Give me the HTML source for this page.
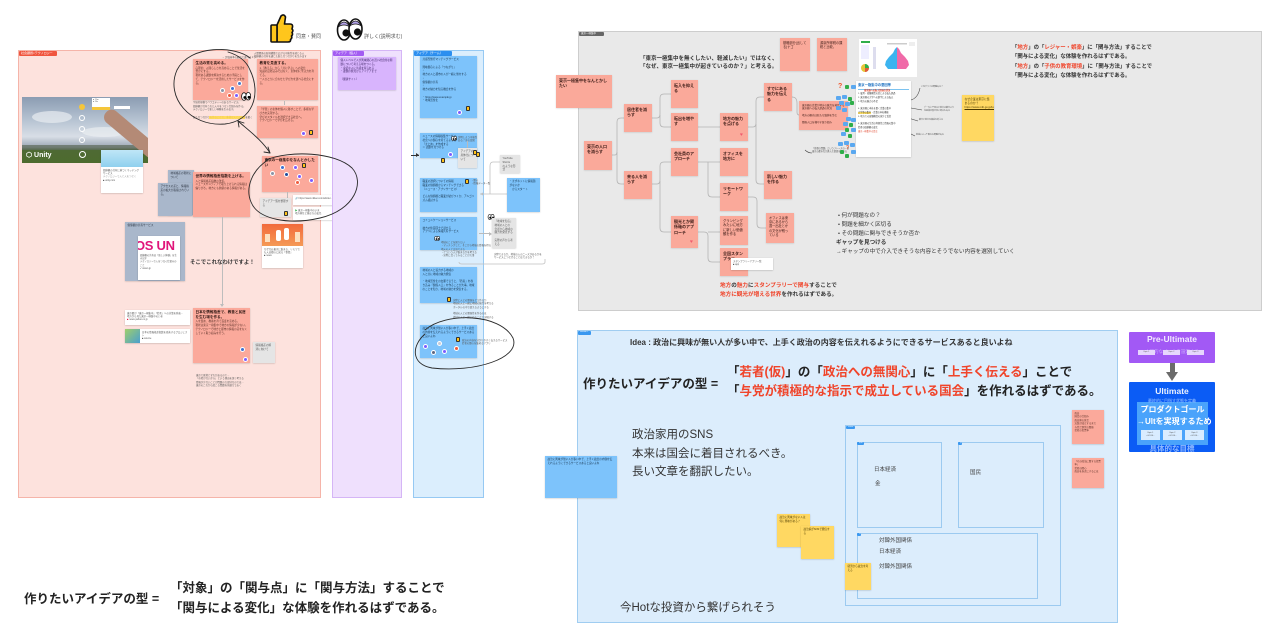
<!DOCTYPE html>
<html><head><meta charset="utf-8">
<style>
*{margin:0;padding:0;box-sizing:border-box}
html,body{width:1280px;height:641px;overflow:hidden;background:#fff}
body{position:relative;font-family:"Liberation Sans","Noto Sans CJK JP",sans-serif;color:#222}
.a{position:absolute}
.n{position:absolute;background:#fba99b;box-shadow:0 .5px 1.5px rgba(0,0,0,.2);padding:2px 2.5px;font-size:2.6px;line-height:1.45;color:#5a3028;overflow:hidden}
.n b{display:block;font-size:3.6px;color:#2a1410;line-height:1.3;margin-bottom:1px}
.g{background:#a9b7cb;color:#2c3440}
.gy{background:#e5e5e5;color:#555}
.bl{background:#7dc3fb;color:#16324a}
.pu{background:#d8b4fd;color:#3b2260}
.ye{background:#ffd862;color:#4a3a00}
.w{position:absolute;background:#fff;box-shadow:0 .5px 1.5px rgba(0,0,0,.22);font-size:2.4px;line-height:1.4;color:#555;padding:1.5px 2px;overflow:hidden}
.av{position:absolute;width:5px;height:5px;border-radius:50%;border:.4px solid #fff}
.th{position:absolute;width:4px;height:5px;background:#ffc21a;border:.6px solid #333;border-radius:1px}
.tag{position:absolute;height:5px;font-size:3px;line-height:5px;color:#fff;padding:0 2px;border-radius:1px;white-space:nowrap;overflow:hidden}
.gn{position:absolute;background:#faa99a;box-shadow:0 .5px 1.5px rgba(0,0,0,.15);padding:2.5px 3px;font-size:4px;font-weight:bold;line-height:1.4;color:#3a1a15;overflow:hidden}
.tiny{position:absolute;font-size:2.4px;line-height:1.4;color:#555;white-space:nowrap}
.bt{position:absolute;white-space:nowrap;font-weight:bold}
.r{color:#f0442a}
.bi{position:absolute;width:5px;height:4px;background:#5aa8f0;border-radius:1px}
.gi{position:absolute;width:4px;height:4px;background:#2fae4a;border-radius:1px}
</style></head><body>

<!-- ===== top legend icons ===== -->
<svg class="a" style="left:268px;top:13px" width="26" height="31" viewBox="0 0 26 31">
 <path d="M9 12 L13 3 Q16 0.5 17.5 4 L16.5 11 L22 11 Q25 11 24.5 14 L24 16 Q25.8 17.5 24 19.5 Q25.3 21.5 23.5 23 Q24.5 25 22.5 26.5 Q23 29 20 29 L9 29 Z" fill="#ffc61c" stroke="#111" stroke-width="1.6" stroke-linejoin="round"/>
 <rect x="3" y="12" width="6" height="17" rx="1" fill="#ffc61c" stroke="#111" stroke-width="1.6"/>
</svg>
<div class="a" style="left:296px;top:33px;font-size:5px;color:#555">同意・賛同</div>
<svg class="a" style="left:336px;top:17px" width="27" height="25" viewBox="0 0 27 25">
 <ellipse cx="8" cy="13" rx="6.5" ry="10" fill="#fff" stroke="#111" stroke-width="1.6"/>
 <ellipse cx="19.5" cy="12" rx="6.5" ry="10" fill="#fff" stroke="#111" stroke-width="1.6"/>
 <path d="M2 10 Q8 0 14 10 Q8 6 2 10Z" fill="#b3a3e8" stroke="#111" stroke-width=".8"/>
 <path d="M13.5 9 Q19.5 -1 25.5 9 Q19.5 5 13.5 9Z" fill="#b3a3e8" stroke="#111" stroke-width=".8"/>
 <circle cx="10" cy="16" r="3.6" fill="#111"/>
 <circle cx="21.5" cy="15" r="3.6" fill="#111"/>
</svg>
<div class="a" style="left:364px;top:33px;font-size:5px;color:#555">詳しく(説明求む)</div>

<!-- ===== left pink frame ===== -->
<div class="a" style="left:18px;top:50px;width:303px;height:448px;background:#fde2dd;border:1px solid #f5b4a9"></div>
<div class="tag" style="left:19px;top:51px;width:38px;background:#f0553e">社会課題×テクノロジー</div>
<div class="tiny" style="left:254px;top:52px">人間関係の新規構築で広がる可能性を感じる人<br>価値観の共有を通じた新たなつながりを生み出す</div>
<div class="tiny" style="left:222px;top:56px">→ 評価基準の観点で選べる 1つ</div>

<div class="n" style="left:193px;top:59px;width:55px;height:41px"><b>生活の質を高める。</b>心理的、人間らしさを高めることで生活を豊かにする。<br>現状ある課題を解決するための手段として、テクノロジーを活用したサービスを作る。</div>
<div class="av" style="left:220px;top:88px;background:#8a94a6"></div>
<div class="av" style="left:230px;top:86px;background:#3c6fd1"></div>
<div class="av" style="left:237px;top:81px;background:#4a78c8"></div>
<div class="av" style="left:227px;top:93px;background:#f05a3c"></div>
<div class="av" style="left:234px;top:93px;background:#7b5cff"></div>
<svg class="a" style="left:241px;top:92px" width="10" height="9" viewBox="0 0 10 9"><ellipse cx="3" cy="4.5" rx="2.4" ry="3.8" fill="#fff" stroke="#111" stroke-width=".8"/><ellipse cx="7.3" cy="4.2" rx="2.4" ry="3.8" fill="#fff" stroke="#111" stroke-width=".8"/><circle cx="3.8" cy="5.5" r="1.4"/><circle cx="8" cy="5.3" r="1.4"/></svg>
<div class="tiny" style="left:193px;top:101px;line-height:1.55">宇宙的規模でバラエティーのあるサービス。<br>価値観が共有された人々をつなぐ仕組みを作る。<br>テクノロジーで新しい体験を生み出す。<br><br>新たなつながりを作ることで、多様な人との関係を築く</div>
<div class="a" style="left:209px;top:116px;width:36px;height:3px;background:#ffd94a;opacity:.85"></div>

<div class="n" style="left:257px;top:59px;width:61px;height:41px"><b>教育を見直する。</b>1.「教える」から「共に学ぶ」への変化<br>知識の詰め込みではなく、主体的に学ぶ力を育てる。<br>一人ひとりに合わせた学び方を選べる社会にする。</div>
<div class="a" style="left:284px;top:101px;width:1px;height:4px;background:#bbb"></div>
<div class="n" style="left:257px;top:106px;width:61px;height:32px">「学習」の主体を個人に移すことで、多様な学び方を実現する。<br>学びのスタイルを選択できる社会へ。<br>テクノロジーで学びを広げる。</div>
<div class="av" style="left:301px;top:131px;background:#7b5cff"></div>
<div class="th" style="left:309px;top:130px"></div>

<div class="n" style="left:262px;top:156px;width:56px;height:36px"><b>東京の一極集中をなんとかしたい</b></div>
<div class="av" style="left:270px;top:171px;background:#8a94a6"></div>
<div class="av" style="left:280px;top:165px;background:#3c6fd1"></div>
<div class="av" style="left:284px;top:172px;background:#1e4a9a"></div>
<div class="av" style="left:293px;top:165px;background:#7b5cff"></div>
<div class="av" style="left:297px;top:174px;background:#7b5cff"></div>
<div class="th" style="left:302px;top:163px"></div>
<div class="av" style="left:295px;top:180px;background:#f05a3c"></div>
<div class="av" style="left:309px;top:178px;background:#7b5cff"></div>
<div class="a" style="left:287px;top:192px;width:1px;height:6px;background:#bbb"></div>
<div class="n gy" style="left:260px;top:198px;width:31px;height:19px">アイデア一覧を整理する</div>
<div class="th" style="left:284px;top:211px"></div>
<div class="w" style="left:293px;top:195px;width:64px;height:10px">🔗 https://www.nikkei.com/article/...</div>
<div class="w" style="left:293px;top:207px;width:64px;height:13px"><span style="color:#2fae4a">▶</span> 東京一極集中のいま<br>地方移住と働き方の変化</div>

<div class="n g" style="left:168px;top:170px;width:26px;height:45px">地域格差の現状について</div>
<div class="n g" style="left:158px;top:183px;width:34px;height:33px">アクセスの差と、情報格差の拡大が指摘されている。</div>
<div class="n" style="left:193px;top:172px;width:57px;height:45px"><b>世界の情報格差指数を上げる。</b>人と情報格差指数の改善。<br>ニュースやメディアで取り上げられる情報は偏りがち。地方にも価値のある情報がある。</div>

<!-- Unity image -->
<div class="a" style="left:22px;top:97px;width:126px;height:66px;overflow:hidden;background:linear-gradient(#8b9cb2 0%,#b6c3d2 35%,#d8dee6 60%,#9aa6b4 76%,#4e6a34 80%,#4d6b2e 100%)">
 <div class="a" style="left:10px;top:14px;width:40px;height:12px;border-radius:50%;background:#e8ecf1;opacity:.7"></div>
 <div class="a" style="left:60px;top:30px;width:44px;height:10px;border-radius:50%;background:#eef1f4;opacity:.6"></div>
 <div class="a" style="left:0;top:48px;width:126px;height:5px;background:#5d6a58;opacity:.7"></div>
 <div class="a" style="left:84px;top:8px;width:66px;height:15px;background:#b48a76;border-radius:7px;transform:rotate(40deg);transform-origin:0 50%"></div>
 <div class="a" style="left:77px;top:7px;width:12px;height:3px;background:#c09684;border-radius:2px;transform:rotate(30deg)"></div>
 <div class="a" style="left:57px;top:7px;width:6px;height:6px;border-radius:50%;background:#f5c63a"></div>
 <div class="a" style="left:57px;top:18px;width:6px;height:6px;border-radius:50%;border:1px solid #fff"></div>
 <div class="a" style="left:57px;top:29px;width:6px;height:6px;border-radius:50%;border:1px solid #fff"></div>
 <div class="a" style="left:57px;top:40px;width:6px;height:6px;border-radius:50%;border:1px solid #fff"></div>
 <div class="a" style="left:57px;top:54px;width:7px;height:7px;border-radius:50%;border:1px solid #fff"></div>
 <div class="a" style="left:70px;top:1px;width:18px;height:9px;background:#fff;font-size:2px;color:#555;padding:1px">● 21m<br>● 20s</div>
 <div class="a" style="left:70px;top:10px;width:18px;height:3px;background:#f5c63a"></div>
 <div class="a" style="left:92px;top:9px;width:16px;height:3px;background:#fff"></div>
 <div class="a" style="left:4px;top:54px;font-size:7px;font-weight:bold;color:#fff">⬡ Unity</div>
</div>
<div class="w" style="left:101px;top:150px;width:42px;height:43px;padding:0">
 <div style="height:17px;background:linear-gradient(#bfe6f7,#8fd0ee)"></div>
 <div style="padding:1.5px 2px">価値観の共有に基づくマッチングサービス<br><span style="color:#999">テクノロジーで人と人をつなぐ</span><br>■ unity.com</div>
</div>

<!-- OS UN card -->
<div class="n g" style="left:125px;top:222px;width:60px;height:59px">価値観の共有サービス</div>
<div class="w" style="left:138px;top:236px;width:42px;height:44px;padding:0">
 <div style="font-size:13px;font-weight:bold;color:#e0157a;line-height:14px;margin:3px 0 0 -3px;letter-spacing:-.3px">OS UN</div>
 <div style="padding:2px 2px;font-size:2.3px">価値観の共有は「新しい体験」を生み出す<br>テクノロジーで人をつなぐ仕組みのこと<br>✓ ossun.jp</div>
</div>
<div class="bt" style="left:190px;top:258px;font-size:5.4px;color:#333">そこでこれなわけですよ！</div>

<!-- orange card -->
<div class="w" style="left:262px;top:224px;width:41px;height:44px;padding:0">
 <div style="height:22px;background:linear-gradient(#f26a3c,#f59a56);position:relative">
  <div class="a" style="left:14px;top:6px;width:5px;height:11px;background:#fff;border-radius:2px"></div>
  <div class="a" style="left:22px;top:4px;width:5px;height:12px;background:#fff;border-radius:2px"></div>
  <div class="a" style="left:3px;top:10px;width:5px;height:8px;background:#fde0c0"></div>
  <div class="a" style="left:33px;top:8px;width:5px;height:10px;background:#fde0c0"></div>
 </div>
 <div style="padding:1.5px 2px">なぜなお東京に集まる、リモワでも人は都心に戻る「事情」<br>■ news</div>
</div>

<div class="a" style="left:222px;top:217px;width:1px;height:89px;background:#bdbdbd"></div>
<div class="a" style="left:220px;top:304px;width:0;height:0;border-left:2px solid transparent;border-right:2px solid transparent;border-top:3px solid #bdbdbd"></div>

<div class="w" style="left:125px;top:310px;width:65px;height:15px">東京都が「東京一極集中」「若者」への対策を発表…<br>地方から見た東京一極集中のいま<br><span style="color:#e03">■</span> news.yahoo.co.jp</div>
<div class="w" style="left:125px;top:329px;width:65px;height:14px;padding-left:17px"><div class="a" style="left:0;top:0;width:15px;height:14px;background:linear-gradient(135deg,#9fcf6a,#4a9fd0)"></div>日本の情報格差指数を改善するプロジェクト<br>■ source</div>
<div class="n" style="left:193px;top:308px;width:57px;height:55px"><b>日本を情報格差で、教養と民度を生む場を作る。</b>人を集め、教養を育て民度を高める。<br>現状は東京一極集中で地方の情報が少ない。テクノロジーで地方と都市の情報の差をなくしていく取り組みを行う。</div>
<div class="av" style="left:240px;top:347px;background:#3c6fd1"></div>
<div class="av" style="left:243px;top:357px;background:#7b5cff"></div>
<div class="n gy" style="left:253px;top:342px;width:22px;height:21px">情報格差の解消に向けて</div>
<div class="tiny" style="left:196px;top:374px">東京で感覚とずれがあるので…<br>「市場がないから」という理由を深く考える<br>情報が少ないことが問題の大部分なのでは…<br>東京のこれから起こる問題を見据えておく</div>

<!-- ===== purple column ===== -->
<div class="a" style="left:332px;top:50px;width:70px;height:448px;background:#efe0fd;border:1px solid #d5b5f6"></div>
<div class="tag" style="left:333px;top:51px;width:31px;background:#a35cf2">アイデア（個人）</div>
<div class="n pu" style="left:338px;top:57px;width:58px;height:33px">個人レベルで人が興味関心の近い社会的な問題について考える場をつくる。<br>・身近な人に共感を得られる<br>・課題の発見からアイデアまで<br><br>（関連サイト）</div>

<!-- ===== blue column ===== -->
<div class="a" style="left:413px;top:50px;width:71px;height:448px;background:#dbeefd;border:1px solid #96c9f3"></div>
<div class="tag" style="left:414px;top:51px;width:38px;background:#2c8ff0">アイデア（チーム）</div>
<div class="n bl" style="left:420px;top:56px;width:57px;height:62px">共感型旅行マッチングサービス<br><br>興味関心による「つながり」<br>↓<br>地方の人と都市の人が一緒に旅をする<br>↓<br>価値観の共有<br>↓<br>地方の魅力を知る機会を作る<br><br>・https://www.example.jp<br>・地域活性化</div>
<div class="av" style="left:457px;top:110px;background:#7b5cff"></div>
<div class="th" style="left:466px;top:106px"></div>

<div class="n bl" style="left:420px;top:133px;width:57px;height:25px">ニュースの情報収集サービス<br>社会への関心を持てるように<br>「まとめ」を作成する<br>＞ 話題を見つける</div>
<div class="a" style="left:411px;top:155px;width:8px;height:1px;background:#333"></div>
<div class="a" style="left:416px;top:153px;width:0;height:0;border-top:2px solid transparent;border-bottom:2px solid transparent;border-left:3px solid #333"></div>
<div class="av" style="left:448px;top:152px;background:#7b5cff"></div>
<div class="th" style="left:441px;top:158px"></div>
<svg class="a" style="left:451px;top:136px" width="6" height="5" viewBox="0 0 10 9"><ellipse cx="3" cy="4.5" rx="2.4" ry="3.8" fill="#fff" stroke="#111"/><ellipse cx="7.3" cy="4.2" rx="2.4" ry="3.8" fill="#fff" stroke="#111"/><circle cx="3.8" cy="5.5" r="1.4"/><circle cx="8" cy="5.3" r="1.4"/></svg>
<div class="tiny" style="left:458px;top:136px">説明しよう可能性<br>ある？次の段階</div>
<div class="a" style="left:467px;top:141px;width:1px;height:7px;background:#bbb"></div>
<div class="n gy" style="left:458px;top:148px;width:19px;height:20px">アイデアの具体化について</div>
<div class="th" style="left:473px;top:150px"></div>
<div class="th" style="left:476px;top:152px"></div>

<div class="n gy" style="left:500px;top:155px;width:20px;height:18px">YouTube Shorts<br>のような形式</div>
<svg class="a" style="left:476px;top:160px" width="34" height="38" viewBox="476 160 34 38">
 <path d="M500 162 H493 Q490 162 490 166 V194" fill="none" stroke="#c0c0c0" stroke-width=".8"/>
 <path d="M507 194 H480" fill="none" stroke="#c0c0c0" stroke-width=".8"/>
 <path d="M480 194 L483 192.5 L483 195.5Z" fill="#c0c0c0"/>
</svg>
<div class="n bl" style="left:507px;top:178px;width:33px;height:34px">・まずネットに情報源がないか<br>　からスタート</div>

<div class="n bl" style="left:420px;top:178px;width:57px;height:34px">職業の選択についての情報<br>職業の価値観からマッチングできる<br>（ニュース・アプリサービス）<br><br>どんな価値観と職業が結びつくか、アルゴリズム検討する</div>
<div class="th" style="left:465px;top:179px"></div>
<div class="tiny" style="left:471px;top:179px">・関心<br>・情報データ一覧</div>

<div class="n bl" style="left:420px;top:217px;width:57px;height:33px">コミュニケーションサービス<br><br>地方の住民同士で話せる<br>アプリによる情報共有サービス</div>
<svg class="a" style="left:434px;top:236px" width="6" height="5" viewBox="0 0 10 9"><ellipse cx="3" cy="4.5" rx="2.4" ry="3.8" fill="#fff" stroke="#111"/><ellipse cx="7.3" cy="4.2" rx="2.4" ry="3.8" fill="#fff" stroke="#111"/><circle cx="3.8" cy="5.5" r="1.4"/><circle cx="8" cy="5.3" r="1.4"/></svg>
<div class="tiny" style="left:441px;top:241px">地域のことを知りたい<br>・マッチングして、そこから地域の情報を得る<br>地元の人と交流できる<br>・どういう人が集まるかを考える<br>・実際に会ってみることが大事</div>
<svg class="a" style="left:487px;top:214px" width="8" height="6" viewBox="0 0 10 9"><ellipse cx="3" cy="4.5" rx="2.4" ry="3.8" fill="#fff" stroke="#111"/><ellipse cx="7.3" cy="4.2" rx="2.4" ry="3.8" fill="#fff" stroke="#111"/><circle cx="3.8" cy="5.5" r="1.4"/><circle cx="8" cy="5.3" r="1.4"/></svg>
<div class="a" style="left:479px;top:233px;width:12px;height:1px;background:#bbb"></div>
<div class="a" style="left:489px;top:231.5px;width:0;height:0;border-top:2px solid transparent;border-bottom:2px solid transparent;border-left:3px solid #bbb"></div>
<div class="n gy" style="left:492px;top:218px;width:24px;height:30px">「地域を知る」<br>地域の人との<br>会話から地域の<br>魅力を発見する<br><br>実際の声から考える</div>
<div class="tiny" style="left:494px;top:253px">実際できるか、地域の人のニーズがあるかを<br>サービスにつなげることはできるか？</div>
<svg class="a" style="left:455px;top:258px" width="95" height="8" viewBox="455 258 95 8">
 <path d="M545 259 V262 Q545 264 542 264 H462 Q459 264 459 262" fill="none" stroke="#c0c0c0" stroke-width=".8"/>
</svg>

<div class="n bl" style="left:420px;top:267px;width:57px;height:36px">地域の人と協力する地域の<br>人と共に地域の魅力発信<br><br>・地域活性化の文脈で言うと、「若者」を巻き込み「関係人口」を作ることが大事。地域のことを知り、地域の魅力を発信する。</div>
<div class="th" style="left:447px;top:297px"></div>
<div class="tiny" style="left:453px;top:299px">実際に人との関係をどう作るか<br>地域の人と一緒に地域の魅力を考える<br>ポータルの中で使えるようにする<br><br>地域の人との関係性を作るのは<br>地域の人と一緒にやることで実現する</div>

<div class="n bl" style="left:420px;top:325px;width:57px;height:33px">政治に興味が無い人が多い中で、上手く政治の内容を伝えれるようにできるサービスあると良いよね</div>
<div class="av" style="left:423px;top:344px;background:#7b5cff"></div>
<div class="av" style="left:431px;top:350px;background:#5e6680"></div>
<div class="av" style="left:437px;top:341px;background:#c7cbd6"></div>
<div class="av" style="left:442px;top:349px;background:#7b5cff"></div>
<div class="av" style="left:454px;top:346px;background:#f05a3c"></div>
<div class="th" style="left:456px;top:337px"></div>
<div class="tiny" style="left:462px;top:339px">政治の内容を分かりやすく伝えるサービス<br>若者の関心を集めるアプリ</div>

<!-- ===== hand-drawn ellipses & arrow ===== -->
<svg class="a" style="left:0;top:0;z-index:5;pointer-events:none" width="600" height="400" viewBox="0 0 600 400">
 <g fill="none" stroke="#2a2a2a" stroke-width="0.9" stroke-linecap="round">
  <path d="M250 58 C236 46 190 44 177 70 C165 97 190 127 225 124 C252 121 262 95 250 70 C246 60 238 55 228 52"/>
  <path d="M266 160 C290 150 335 152 352 168 C365 182 355 210 320 218 C290 225 258 220 251 202 C245 188 252 170 268 160"/>
  <path d="M270 153 C262 140 248 130 238 121"/>
  <path d="M238 121 L244 123 M238 121 L239 127"/>
  <path d="M270 153 L264 152 M270 153 L268 147"/>
  <path d="M425 330 C445 312 500 313 513 338 C521 358 475 373 432 368 C410 364 412 345 425 334"/>
 </g>
</svg>

<!-- ===== top-right gray frame ===== -->
<div class="a" style="left:578px;top:31px;width:684px;height:280px;background:#e9e9e9;border:1px solid #cdcdcd"></div>
<div class="tag" style="left:579px;top:32px;width:25px;background:#666;height:4px;line-height:4px;font-size:2.5px">東京一極集中</div>

<svg class="a" style="left:0;top:0" width="1280" height="320" viewBox="0 0 1280 320">
 <g fill="none" stroke="#b3b3b3" stroke-width=".8">
  <path d="M612 155 H615 Q617 155 617 151 V122 Q617 118 621 118 H624"/>
  <path d="M617 152 V180 Q617 184 621 184 H624"/>
  <path d="M652 118 H657 Q660 118 660 114 V98 Q660 94 664 94 H671"/>
  <path d="M660 115 V123 Q660 127 664 127 H671"/>
  <path d="M652 184 H657 Q660 184 660 180 V166 Q660 162 664 162 H671"/>
  <path d="M660 181 V228 Q660 232 664 232 H671"/>
  <path d="M698 127 H720"/>
  <path d="M698 162 H720"/>
  <path d="M708 162 V193 Q708 197 712 197 H720"/>
  <path d="M698 232 H704 Q708 232 708 236 V258 Q708 262 712 262 H720"/>
  <path d="M708 232 H720"/>
  <path d="M748 127 H753 Q756 127 756 123 V101 Q756 97 760 97 H764"/>
  <path d="M756 124 V180 Q756 184 760 184 H764"/>
  <path d="M792 97 Q797 97 797 103 V112 Q797 115 799 115"/>
  <path d="M748 197 H753 Q757 197 757 201 V224 Q757 228 761 228 H766"/>
 </g>
 <g fill="none" stroke="#444" stroke-width=".6">
  <path d="M911 100 Q918 98 920 88"/>
  <path d="M911 108 L922 110"/>
  <path d="M905 117 L918 121"/>
  <path d="M905 131 L915 136"/>
  <path d="M805 150 Q808 153 812 153"/>
 </g>
</svg>

<div class="gn" style="left:556px;top:75px;width:56px;height:33px">東京一極集中をなんとかしたい</div>
<div class="gn" style="left:584px;top:141px;width:28px;height:29px">東京の人口を減らす</div>
<div class="gn" style="left:624px;top:104px;width:28px;height:28px">居住者を減らす</div>
<div class="gn" style="left:624px;top:171px;width:28px;height:28px">来る人を減らす</div>
<div class="gn" style="left:671px;top:80px;width:27px;height:28px">転入を抑える</div>
<div class="gn" style="left:671px;top:113px;width:27px;height:28px">転出を増やす</div>
<div class="gn" style="left:671px;top:148px;width:27px;height:28px">会社員のアプローチ</div>
<div class="gn" style="left:671px;top:216px;width:27px;height:32px">観光とか関係軸のアプローチ</div>
<div class="a" style="left:690px;top:240px;font-size:5px;color:#f05b6e;line-height:5px">♥</div>
<div class="gn" style="left:720px;top:113px;width:28px;height:28px">地方の魅力を点げる</div>
<div class="a" style="left:740px;top:133px;font-size:5px;color:#f05b6e;line-height:5px">♥</div>
<div class="gn" style="left:720px;top:148px;width:28px;height:28px">オフィスを地方に</div>
<div class="gn" style="left:720px;top:183px;width:28px;height:28px">リモートワーク</div>
<div class="gn" style="left:720px;top:216px;width:28px;height:29px;font-weight:normal;font-size:3.3px">グランピングみたいに地方に新しい価値観を作る</div>
<div class="gn" style="left:720px;top:248px;width:28px;height:28px">全国スタンプラリー</div>
<div class="w" style="left:731px;top:258px;width:42px;height:12px">スタンプラリーアプリ一覧<br>■ app</div>
<div class="gn" style="left:764px;top:83px;width:28px;height:28px">すでにある魅力を伝える</div>
<div class="gn" style="left:764px;top:171px;width:28px;height:28px">新しい魅力を作る</div>
<div class="gn" style="left:766px;top:213px;width:28px;height:30px;font-weight:normal;font-size:3.2px">オフィスは東京にあるから週一出社とかの文化が残っている</div>
<div class="gn" style="left:799px;top:101px;width:49px;height:29px;font-weight:normal;font-size:2.5px">東京圏の企業が地方の魅力を発信する<br>東京圏への転入超過の状況<br><br>地方の観光は新たな価値を生む<br><br>関係人口を増やす取り組み</div>
<div class="gn" style="left:780px;top:38px;width:30px;height:33px;font-weight:normal;font-size:3.2px">基礎部分(出してる)ナゴ</div>
<div class="gn" style="left:817px;top:38px;width:30px;height:33px;font-weight:normal;font-size:3.2px">源泉所得税の課税と比較。</div>
<div class="tiny" style="left:812px;top:148px;font-size:2.2px">「首都の問題」というフレーズの一部<br>東京の都市化が進んだ要因を調べる</div>

<div class="bt" style="left:640px;top:55px;font-size:5.5px;color:#333;line-height:8px">「東京一極集中を無くしたい、軽減したい」ではなく、<br>「なぜ、東京一極集中が起きているのか？」と考える。</div>

<!-- chart -->
<svg class="a" style="left:859px;top:39px" width="58" height="38" viewBox="0 0 58 38">
 <rect width="58" height="38" fill="#fff"/>
 <rect x="2" y="2" width="9" height="2" fill="#2fae4a"/>
 <rect x="2" y="6" width="8" height="14" fill="#eef"/>
 <circle cx="6" cy="29" r="4" fill="#e6c53a"/><path d="M6 29 L6 25 A4 4 0 0 1 10 29Z" fill="#2fae4a"/><path d="M6 29 L10 29 A4 4 0 0 1 6 33Z" fill="#e05a3a"/>
 <rect x="14" y="8" width="3" height="22" fill="#dde"/>
 <path d="M38 8 L36 10 L34 14 L30 18 L27 22 L26 26 L29 30 L38 30Z" fill="#3cb4f0"/>
 <path d="M38 8 L40 10 L42 14 L46 18 L49 22 L50 26 L47 30 L38 30Z" fill="#f06aa8"/>
 <rect x="28" y="4" width="20" height="1.5" fill="#ccc"/>
 <rect x="50" y="3" width="6" height="4" fill="#eee"/>
</svg>
<!-- doc -->
<div class="a" style="left:856px;top:81px;width:55px;height:76px;background:#fff;box-shadow:0 .5px 1.5px rgba(0,0,0,.2);padding:2px;font-size:2.2px;line-height:1.7;color:#333;overflow:hidden">
 <div style="font-size:3.3px;font-weight:bold;color:#1a6fc0;border-bottom:1px solid #7cc3f0">東京一極集中の要因等</div>
 <div style="color:#e0442a;font-weight:bold;margin-left:6px">東京圏への転入超過の状況</div>
 1. 雇用・就職機会の差による転入超過<br>2. 東京圏の大学への進学による転入<br>3. 地方の魅力の不足<br><br>4. 東京圏に本社を置く企業の集中<br><span style="background:#ffe066">大学等の集中</span>・企業の本社機能<br>5. 地方での就職機会の減少と賃金<br><br>6. 東京圏の生活の利便性と情報の集中<br>若者の価値観の変化<br><span style="color:#e0442a">東京一極集中の是正</span>
</div>
<div class="a" style="left:838px;top:83px;font-size:7px;font-weight:bold;color:#f0552a;line-height:7px">?</div>
<div class="gi" style="left:845px;top:85px"></div>
<div class="bi" style="left:851px;top:85px"></div>
<div class="bi" style="left:836px;top:96px"></div><div class="bi" style="left:842px;top:95px"></div><div class="gi" style="left:848px;top:97px"></div>
<div class="bi" style="left:839px;top:101px"></div><div class="bi" style="left:845px;top:102px"></div><div class="gi" style="left:850px;top:101px"></div>
<div class="bi" style="left:836px;top:106px"></div><div class="bi" style="left:842px;top:108px"></div>
<div class="bi" style="left:846px;top:117px"></div><div class="bi" style="left:851px;top:118px"></div>
<div class="bi" style="left:843px;top:122px"></div><div class="gi" style="left:849px;top:123px"></div>
<div class="gi" style="left:845px;top:128px"></div><div class="bi" style="left:851px;top:128px"></div>
<div class="bi" style="left:841px;top:132px"></div><div class="gi" style="left:848px;top:134px"></div>
<div class="bi" style="left:838px;top:142px"></div><div class="bi" style="left:844px;top:141px"></div><div class="bi" style="left:850px;top:143px"></div>
<div class="a" style="left:846px;top:146px;font-size:5px;font-weight:bold;color:#f0552a;line-height:5px">?</div>
<div class="gi" style="left:840px;top:150px"></div><div class="bi" style="left:851px;top:150px"></div><div class="gi" style="left:845px;top:154px"></div>
<div class="tiny" style="left:921px;top:86px;font-size:2px">このグラフは問題ある？</div>
<div class="tiny" style="left:924px;top:107px;font-size:2px">データ上で見ると地方は都市より<br>住民満足度が高い場合もある</div>
<div class="tiny" style="left:919px;top:119px;font-size:2px">都市と地方の格差を考える</div>
<div class="tiny" style="left:916px;top:134px;font-size:2px">地域によって異なる問題がある</div>
<div class="n ye" style="left:962px;top:95px;width:32px;height:46px;font-size:2.8px;line-height:1.5">なぜ企業は東京に集まるのか？<br><u>https://www.mlit.go.jp/kokudoseisaku/content/001384843.pdf</u></div>

<div class="bt" style="left:1012px;top:44px;font-size:5.4px;color:#333;line-height:8.5px">「<span class="r">地方</span>」の「<span class="r">レジャー・娯楽</span>」に「関与方法」することで<br>「関与による変化」な体験を作れるはずである。</div>
<div class="bt" style="left:1012px;top:63px;font-size:5.4px;color:#333;line-height:8.5px">「<span class="r">地方</span>」の「<span class="r">子供の教育環境</span>」に「関与方法」することで<br>「関与による変化」な体験を作れるはずである。</div>

<div class="a" style="left:838px;top:212px;font-size:5.6px;line-height:9px;color:#333;white-space:nowrap">• 何が問題なの？<br>• 問題を細かく区切る<br>• その問題に関与できそうか否か</div>
<div class="a" style="left:836px;top:239px;font-size:5.6px;line-height:9px;color:#333;white-space:nowrap"><b>ギャップを見つける</b><br>→ギャップの中で介入できそうな内容とそうでない内容を選別していく</div>

<div class="bt" style="left:720px;top:282px;font-size:5.6px;line-height:9px;color:#333"><span class="r">地方</span>の<span class="r">魅力</span>に<span class="r">スタンプラリーで関与</span>することで<br><span class="r">地方に観光が増える世界</span>を作れるはずである。</div>

<!-- ===== bottom-right blue frame ===== -->
<div class="a" style="left:577px;top:330px;width:541px;height:293px;background:#dcedfc;border:1px solid #a0cdf1"></div>
<div class="tag" style="left:578px;top:331px;width:13px;height:3.5px;line-height:3.5px;font-size:2px;background:#3a98f0">Section 1</div>
<div class="bt" style="left:630px;top:337px;font-size:8px;color:#333;font-weight:bold">Idea : 政治に興味が無い人が多い中で、上手く政治の内容を伝えれるようにできるサービスあると良いよね</div>
<div class="bt" style="left:583px;top:373px;font-size:12.5px;color:#222">作りたいアイデアの型 =</div>
<div class="bt" style="left:727px;top:363px;font-size:12.5px;color:#222;line-height:19px">「<span class="r">若者(仮)</span>」の「<span class="r">政治への無関心</span>」に「<span class="r">上手く伝える</span>」ことで<br>「<span class="r">与党が積極的な指示で成立している国会</span>」を作れるはずである。</div>

<div class="a" style="left:632px;top:426px;font-size:11.5px;line-height:18.5px;color:#333;white-space:nowrap">政治家用のSNS<br>本来は国会に着目されるべき。<br>長い文章を翻訳したい。</div>
<div class="a" style="left:620px;top:599px;font-size:11.5px;color:#333;white-space:nowrap">今Hotな投資から繋げられそう</div>

<div class="n bl" style="left:545px;top:456px;width:72px;height:42px;font-size:2.6px">政治に興味が無い人が多い中で、上手く政治の内容を伝えれるようにできるサービスあると良いよね</div>

<div class="a" style="left:845px;top:425px;width:216px;height:181px;border:1px solid #9ccaf0"></div>
<div class="tag" style="left:846px;top:426px;width:9px;height:3px;background:#3a98f0;font-size:1.8px;line-height:3px">Frame</div>
<div class="a" style="left:857px;top:442px;width:85px;height:86px;border:1px solid #9ccaf0"></div>
<div class="tag" style="left:857px;top:442px;width:7px;height:3px;background:#3a98f0;font-size:1.8px;line-height:3px">政治</div>
<div class="a" style="left:958px;top:442px;width:86px;height:86px;border:1px solid #9ccaf0"></div>
<div class="tag" style="left:958px;top:442px;width:4px;height:3px;background:#3a98f0;font-size:1.8px;line-height:3px">民</div>
<div class="a" style="left:857px;top:533px;width:181px;height:66px;border:1px solid #9ccaf0"></div>
<div class="tag" style="left:857px;top:533px;width:4px;height:3px;background:#3a98f0;font-size:1.8px;line-height:3px">外</div>
<div class="a" style="left:874px;top:465px;font-size:5.5px;color:#444">日本経済</div>
<div class="a" style="left:875px;top:479px;font-size:5.5px;color:#444">金</div>
<div class="a" style="left:970px;top:468px;font-size:5.5px;color:#444">国民</div>
<div class="a" style="left:879px;top:536px;font-size:5.5px;color:#444">対韓外国関係</div>
<div class="a" style="left:879px;top:547px;font-size:5.5px;color:#444">日本経済</div>
<div class="a" style="left:879px;top:562px;font-size:5.5px;color:#444">対韓外国関係</div>

<div class="n ye" style="left:777px;top:514px;width:33px;height:33px">政治に興味がない人は何に興味がある？</div>
<div class="n ye" style="left:801px;top:526px;width:33px;height:33px">政治家がSNSで発信する</div>
<div class="n ye" style="left:845px;top:563px;width:26px;height:27px">経済から政治を考える</div>
<div class="n" style="left:1072px;top:410px;width:32px;height:34px;font-size:2.4px">政治<br>国会の仕組み<br>政治家の発言<br>法案が成立するまで<br>与党と野党の関係<br>若者の投票率</div>
<div class="n" style="left:1072px;top:458px;width:32px;height:30px;font-size:2.4px">「その政治に関する投票率」<br>若者の関心<br>政治を身近にするには</div>

<!-- ===== Pre-Ultimate / Ultimate ===== -->
<div class="a" style="left:1129px;top:332px;width:86px;height:31px;background:#a259f5;border-radius:1px"></div>
<div class="a" style="left:1129px;top:334px;width:86px;text-align:center;font-size:8.5px;font-weight:bold;color:#f3eaff">Pre-Ultimate</div>
<div class="a" style="left:1133px;top:349px;width:78px;height:6px;font-size:4.5px;line-height:6px;color:#c9a8fb;text-align:center;overflow:hidden;white-space:nowrap">中間的なゴールを設定する</div>
<div class="a" style="left:1138px;top:350px;width:17px;height:5px;background:#e6d6fd;font-size:2px;text-align:center;line-height:5px;color:#666">Epic-1</div>
<div class="a" style="left:1163px;top:350px;width:17px;height:5px;background:#e6d6fd;font-size:2px;text-align:center;line-height:5px;color:#666">Epic-2</div>
<div class="a" style="left:1187px;top:350px;width:17px;height:5px;background:#e6d6fd;font-size:2px;text-align:center;line-height:5px;color:#666">Epic-3</div>
<div class="a" style="left:1170px;top:363px;width:5px;height:11px;background:#6b6b6b"></div>
<div class="a" style="left:1166px;top:372px;width:0;height:0;border-left:6.5px solid transparent;border-right:6.5px solid transparent;border-top:9px solid #6b6b6b"></div>
<div class="a" style="left:1129px;top:382px;width:86px;height:70px;background:#0b5cf5;border-radius:1px"></div>
<div class="a" style="left:1129px;top:386px;width:86px;text-align:center;font-size:8.5px;font-weight:bold;color:#eaf1ff">Ultimate</div>
<div class="a" style="left:1137px;top:402px;width:71px;height:43px;background:#4aa3fb"></div>
<div class="a" style="left:1132px;top:398px;width:80px;font-size:4px;color:#9cc4ff;text-align:center;white-space:nowrap">最終的に目指す状態を定義</div>
<div class="a" style="left:1137px;top:404px;width:71px;text-align:center;font-size:8px;line-height:12px;color:#fff;font-weight:bold;white-space:nowrap">プロダクトゴール<br>→Ultを実現するため</div>
<div class="a" style="left:1141px;top:430px;width:19px;height:10px;background:#d9ecff;font-size:2px;text-align:center;line-height:3px;padding-top:2px;color:#555">Epic-1<br>+0OOE...</div>
<div class="a" style="left:1163px;top:430px;width:19px;height:10px;background:#d9ecff;font-size:2px;text-align:center;line-height:3px;padding-top:2px;color:#555">Epic-2<br>+0OOE...</div>
<div class="a" style="left:1185px;top:430px;width:19px;height:10px;background:#d9ecff;font-size:2px;text-align:center;line-height:3px;padding-top:2px;color:#555">Epic-3<br>+0OOE...</div>
<div class="a" style="left:1129px;top:443px;width:86px;text-align:center;font-size:7.5px;color:#8fb8ff;font-weight:bold">具体的な目標</div>

<!-- ===== bottom-left big text ===== -->
<div class="bt" style="left:24px;top:588px;font-size:12.5px;color:#222">作りたいアイデアの型 =</div>
<div class="bt" style="left:170px;top:578px;font-size:12.5px;color:#222;line-height:20px">「対象」の「関与点」に「関与方法」することで<br>「関与による変化」な体験を作れるはずである。</div>

</body></html>
